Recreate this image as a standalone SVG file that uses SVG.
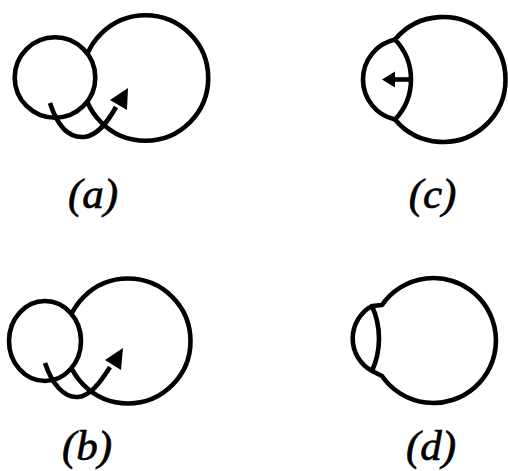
<svg xmlns="http://www.w3.org/2000/svg" width="508" height="471" viewBox="0 0 508 471">
<style>
.ln{fill:none;stroke:#000;stroke-width:4.6;stroke-linecap:butt;stroke-linejoin:round}
.cover{fill:#fff;stroke:#000;stroke-width:4.6}
.head{fill:#000;stroke:none}
.lbl{font-family:"Liberation Serif","DejaVu Serif",serif;font-style:italic;font-size:43px;fill:#000;stroke:#000;stroke-width:0.7;text-anchor:middle}
</style>
<rect width="508" height="471" fill="#fff"/>
<g id="node-a">
  <circle class="ln" cx="145.5" cy="78" r="62.7"/>
  <circle class="cover" cx="55" cy="77.5" r="40.3"/>
  <text class="lbl" x="93" y="208">(a)</text>
</g>
<g id="node-b">
  <circle class="ln" cx="128" cy="341" r="62.5"/>
  <ellipse class="cover" cx="45" cy="341" rx="36" ry="40"/>
  <text class="lbl" x="87" y="460">(b)</text>
</g>
<g id="node-c">
  <path class="ln" d="M395,39.5 A62.5,62.5 0 1 1 395,119.5"/>
  <path class="ln" d="M395,119.5 A41,41 0 0 1 395,39.5"/>
  <path class="ln" d="M395,39.5 A58,58 0 0 1 395,119.5"/>
  <text class="lbl" x="432.5" y="208">(c)</text>
</g>
<g id="node-d">
  <path class="ln" d="M382,305 A62.5,62.5 0 1 1 382,376 L372,371 A37,37 0 0 1 372,306 Z"/>
  <path class="ln" d="M372,306 A79,79 0 0 1 372,371"/>
  <text class="lbl" x="431" y="460">(d)</text>
</g>
<g id="connectors">
  <path class="ln" d="M50,103 C58,128 70,138 84,137 C97,136 107,123 116,107"/>
  <polygon class="head" points="128,88 110,100 127,110"/>
  <path class="ln" d="M45,363 C52,384 64,398 78,397 C90,396 100,383 110,367"/>
  <polygon class="head" points="123,348 105,360 121,370"/>
  <line class="ln" x1="411" y1="79.5" x2="392" y2="79.5"/>
  <polygon class="head" points="382,79.5 395,71.5 395,87.5"/>
</g>
</svg>
